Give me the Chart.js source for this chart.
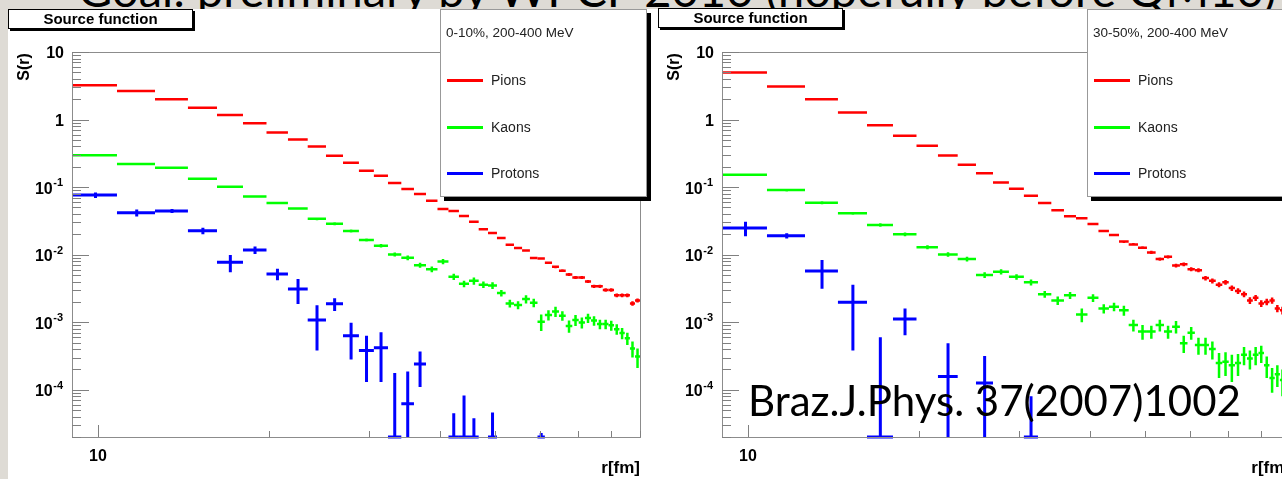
<!DOCTYPE html>
<html>
<head>
<meta charset="utf-8">
<script src="https://cdn.jsdelivr.net/npm/chart.js@4.4.1/dist/chart.umd.min.js"></script>
<style>
  body { margin:0; width:1282px; height:479px; overflow:hidden; background:#dedbd5; position:relative; font-family:"Liberation Sans", Arial, sans-serif; }
  #slideTitle { position:absolute; left:78px; top:-34px; font-family:Lato, sans-serif; font-size:47px; line-height:47px; white-space:nowrap; color:#000; }
  #pad { position:absolute; left:8px; top:9px; width:1274px; height:470px; background:#fff; }
  .plot { position:absolute; top:0; width:660px; height:479px; }
  .titlebox { position:absolute; top:9px; width:183px; height:18px; border:1px solid #000; background:#fff; box-shadow:2px 2px 0 #000;
              font-weight:bold; font-size:15px; line-height:18px; text-align:center; color:#000; }
  .legend { position:absolute; top:9px; width:205px; height:186px; border:1px solid #999; background:#fff; box-shadow:4px 4px 0 #000; color:#222; }
  .legend .head { position:absolute; left:5px; top:15px; font-size:13.5px; }
  .legend .item { position:absolute; left:6px; font-size:14px; height:16px; line-height:16px; }
  .legend .item span { display:inline-block; width:36px; height:0; border-top:3px solid; vertical-align:middle; margin-right:8px; position:relative; top:-1px; }
  .ylab { position:absolute; top:58px; font-weight:bold; font-size:16px; transform:rotate(-90deg); transform-origin:center; }
  .xlab { position:absolute; top:458px; width:60px; text-align:right; font-weight:bold; font-size:17px; }
  #ref { position:absolute; left:748px; top:378px; font-family:Lato, sans-serif; font-size:42px; line-height:44px; color:#000; white-space:nowrap; }
</style>
</head>
<body>
<div id="slideTitle">Goal: preliminary by WPCF 2010 (hopefully before QM10)</div>
<div id="pad"></div>

<div class="plot" style="left:0"><canvas id="c010" width="660" height="479"></canvas></div>
<div class="plot" style="left:650px"><canvas id="c3050" width="660" height="479"></canvas></div>

<div class="titlebox" style="left:8px">Source function</div>
<div class="titlebox" style="left:658px;top:8px">Source function</div>

<div class="ylab" style="left:10px">S(r)</div>
<div class="ylab" style="left:660px">S(r)</div>
<div class="xlab" style="left:580px">r[fm]</div>
<div class="xlab" style="left:1230px">r[fm]</div>

<div class="legend" style="left:440px">
  <div class="head">0-10%, 200-400 MeV</div>
  <div class="item" style="top:62px"><span style="color:#ff0000"></span>Pions</div>
  <div class="item" style="top:109px"><span style="color:#00ff00"></span>Kaons</div>
  <div class="item" style="top:155px"><span style="color:#0000ff"></span>Protons</div>
</div>
<div class="legend" style="left:1087px">
  <div class="head">30-50%, 200-400 MeV</div>
  <div class="item" style="top:62px"><span style="color:#ff0000"></span>Pions</div>
  <div class="item" style="top:109px"><span style="color:#00ff00"></span>Kaons</div>
  <div class="item" style="top:155px"><span style="color:#0000ff"></span>Protons</div>
</div>

<div id="ref">Braz.J.Phys. 37(2007)1002</div>

<script>
// bin edges in r [fm]
const rEdges = [9.0, 10.8, 12.6, 14.4, 16.2, 18.0, 19.8, 21.6, 23.4, 25.2, 27.0, 28.8, 30.6, 32.4, 34.2, 36.0,
  37.8, 39.6, 41.4, 43.2, 45.0, 46.8, 48.6, 50.4, 52.2, 54.0, 55.8, 57.6, 59.4, 61.2, 63.0, 64.8, 66.6, 68.4,
  70.2, 72.0, 73.8, 75.6, 77.4, 79.2, 81.0, 82.8, 84.6, 86.4, 88.2, 90.0];

const xTickValues = [10, 20, 30, 40, 50, 60, 70, 80, 90];
const xTickLabels = ['10', '', '', '', '', '', '', '', ''];
const yTickValues = [10, 1, 0.1, 0.01, 0.001, 0.0001];
const yTickLabels = ['10', '1', '10^-1', '10^-2', '10^-3', '10^-4'];

// 0-10%
const pions010 = [3.22, 2.65, 2.0, 1.49, 1.17, 0.88, 0.644, 0.507, 0.40, 0.29, 0.229, 0.174, 0.147, 0.115, 0.0935,
  0.0789, 0.0628, 0.0473, 0.0443, 0.0373, 0.0307, 0.0237, 0.021, 0.0177, 0.014, 0.0126, 0.0115, 0.0089, 0.0088,
  0.0076, 0.0066, 0.0058, 0.0051, 0.0046, 0.0046, 0.0040, 0.0034, 0.0034, 0.0030, 0.0030, 0.0025, 0.0025, 0.0025,
  0.0019, 0.0021];
const pions010Err = [0.02, 0.02, 0.015, 0.012, 0.01, 0.008, 0.006, 0.005, 0.004, 0.003, 0.003, 0.002, 0.002, 0.0018,
  0.0015, 0.0013, 0.0011, 0.0009, 0.0009, 0.0008, 0.0007, 0.0006, 0.0006, 0.0005, 0.0005, 0.00045, 0.0004, 0.00035,
  0.00035, 0.0003, 0.0003, 0.00027, 0.00025, 0.00023, 0.00023, 0.0002, 0.0002, 0.0002, 0.00018, 0.00018, 0.00016,
  0.00016, 0.00016, 0.00014, 0.00014];
const kaons010 = [0.297, 0.219, 0.193, 0.133, 0.101, 0.0729, 0.0581, 0.0484, 0.034, 0.0287, 0.0224, 0.0165, 0.0136,
  0.0101, 0.009, 0.0070, 0.0061, 0.0079, 0.0047, 0.0037, 0.0041, 0.0036, 0.0035, 0.0027, 0.0019, 0.0018, 0.0022,
  0.00195, 0.00102, 0.00128, 0.00144, 0.00125, 0.00088, 0.00108, 0.00099, 0.00115, 0.00106, 0.00094, 0.00094,
  0.0009, 0.00079, 0.00069, 0.00058, 0.00041, 0.00031];
const kaons010Err = [0.012, 0.009, 0.008, 0.006, 0.004, 0.003, 0.0025, 0.002, 0.0016, 0.0014, 0.0011, 0.0009, 0.0008,
  0.0007, 0.0007, 0.0006, 0.0006, 0.0007, 0.0005, 0.0004, 0.0005, 0.0004, 0.0004, 0.0003, 0.00025, 0.00025, 0.0003,
  0.00028, 0.00028, 0.00022, 0.00025, 0.0002, 0.00018, 0.0002, 0.00018, 0.00018, 0.00017, 0.00015, 0.00015, 0.00015,
  0.00014, 0.00013, 0.00012, 0.00011, 0.0001];
const protons010 = [0.0762, 0.0417, 0.0443, 0.0226, 0.0077, 0.0117, 0.00518, 0.00311, 0.00108, 0.00187, 0.00063,
  0.00038, 0.00042, 0, 0.000062, 0.00024, null, null, 0, 0, 0, null, 0, null, null, null, null, null, 0, null, null,
  null, null, null, null, null, null, null, null, null, null, null, null, null, null];
const protons010Err = [0.007, 0.005, 0.003, 0.0025, 0.0022, 0.0015, 0.001, 0.00125, 0.0007, 0.0004, 0.00035,
  0.00025, 0.00029, 0.000177, 0.000124, 0.00013, 0, 0, 0.000045, 0.000082, 0.000038, 0, 0.000046, 0, 0, 0, 0, 0,
  0.000023, 0, 0, 0, 0, 0, 0, 0, 0, 0, 0, 0, 0, 0, 0, 0, 0];

// 30-50%
const pions3050 = [4.96, 3.08, 2.0, 1.27, 0.826, 0.574, 0.408, 0.294, 0.214, 0.161, 0.117, 0.0945, 0.0745, 0.0581,
  0.0453, 0.0369, 0.0345, 0.0284, 0.0224, 0.0195, 0.0156, 0.0142, 0.0127, 0.0108, 0.0086, 0.0093, 0.0069, 0.0072,
  0.0061, 0.0059, 0.0045, 0.0041, 0.0036, 0.0039, 0.0032, 0.0029, 0.0026, 0.0021, 0.0023, 0.0019, 0.0020, 0.0021,
  0.0016, 0.0015, 0.0014];
const pions3050Err = [0.03, 0.02, 0.015, 0.01, 0.008, 0.006, 0.005, 0.004, 0.003, 0.0025, 0.002, 0.0018, 0.0015,
  0.0013, 0.0011, 0.001, 0.001, 0.0009, 0.0008, 0.0008, 0.0007, 0.0007, 0.0006, 0.0006, 0.0005, 0.0005, 0.00045,
  0.00045, 0.0004, 0.0004, 0.00035, 0.00035, 0.0003, 0.0003, 0.0003, 0.00028, 0.00026, 0.00024, 0.00024, 0.00022,
  0.00022, 0.00022, 0.0002, 0.0002, 0.0002];
const kaons3050 = [0.152, 0.0904, 0.0586, 0.0409, 0.0275, 0.020, 0.0129, 0.0101, 0.0086, 0.0050, 0.0056, 0.0047,
  0.0039, 0.0026, 0.0021, 0.0025, 0.0013, 0.0023, 0.0016, 0.0017, 0.0015, 0.00091, 0.00073, 0.00073, 0.00091,
  0.00073, 0.00086, 0.00049, 0.0007, 0.00046, 0.00046, 0.0004, 0.00025, 0.00026, 0.00023, 0.00025, 0.00033, 0.00029,
  0.00033, 0.00035, 0.00023, 0.00015, 0.00017, 0.00014, 0.00013];
const kaons3050Err = [0.006, 0.004, 0.003, 0.002, 0.0016, 0.0013, 0.0009, 0.0008, 0.0007, 0.0005, 0.0005, 0.00045,
  0.0004, 0.0003, 0.0003, 0.0003, 0.0003, 0.0003, 0.00025, 0.00025, 0.00025, 0.00018, 0.00018, 0.00016, 0.00018,
  0.00016, 0.00018, 0.00014, 0.00015, 0.00013, 0.00013, 0.00012, 0.0001, 0.0001, 0.0001, 0.00009, 0.0001, 0.00009,
  0.0001, 0.0001, 0.00008, 0.00006, 0.00006, 0.00006, 0.00006];
const protons3050 = [0.0248, 0.0191, 0.00574, 0.00198, 0, 0.00112, null, 0.000157, null, 0.000126, null, null, 0,
  null, null, null, null, null, null, null, null, null, null, null, null, null, null, null, null, null, null, null,
  null, null, null, null, null, null, null, null, null, null, null, null, null];
const protons3050Err = [0.006, 0.0017, 0.0026, 0.0016, 0.0006, 0.00048, 0, 0.00033, 0, 0.00019, 0, 0, 0.00008, 0, 0,
  0, 0, 0, 0, 0, 0, 0, 0, 0, 0, 0, 0, 0, 0, 0, 0, 0, 0, 0, 0, 0, 0, 0, 0, 0, 0, 0, 0, 0, 0];

const Y_MIN = 2e-5, Y_MAX = 10, X_MIN = 9, X_MAX = 90;

// ROOT-like histogram drawing: frame, inner ticks, bins with error bars
const rootStyle = {
  id: 'rootStyle',
  afterDatasetsDraw(chart) {
    const { ctx, chartArea: a, scales: { x, y } } = chart;

    ctx.save();
    ctx.beginPath();
    ctx.rect(a.left - 2, a.top - 2, a.right - a.left + 4, a.bottom - a.top + 4);
    ctx.clip();
    chart.data.datasets.forEach(ds => {
      ctx.strokeStyle = ds.borderColor;
      ctx.lineWidth = ds.borderWidth;
      ds.values.forEach((v, i) => {
        if (v === null) return;
        const e = ds.errors[i];
        const py = v > Y_MIN ? y.getPixelForValue(v) : a.bottom;
        const x0 = x.getPixelForValue(rEdges[i]);
        const x1 = x.getPixelForValue(rEdges[i + 1]);
        const xc = x.getPixelForValue((rEdges[i] + rEdges[i + 1]) / 2);
        ctx.beginPath();
        ctx.moveTo(x0, py);
        ctx.lineTo(x1, py);
        if (e > 0) {
          const hi = v + e, lo = v - e;
          const pyHi = hi > Y_MIN ? y.getPixelForValue(hi) : a.bottom;
          const pyLo = lo > Y_MIN ? y.getPixelForValue(lo) : a.bottom;
          ctx.moveTo(xc, pyHi);
          ctx.lineTo(xc, pyLo);
        }
        ctx.stroke();
      });
    });
    ctx.restore();

    // frame
    ctx.save();
    ctx.strokeStyle = '#8c8c8c';
    ctx.lineWidth = 1;
    ctx.strokeRect(Math.round(a.left) + 0.5, Math.round(a.top) + 0.5, a.right - a.left, a.bottom - a.top);

    // y ticks (inside frame)
    ctx.strokeStyle = '#808080';
    ctx.beginPath();
    for (let d = 1e-5; d <= 10; d *= 10) {
      for (let m = 1; m <= 9; m++) {
        const v = m * d;
        if (v < Y_MIN * 0.999 || v > Y_MAX * 1.001) continue;
        const py = Math.round(y.getPixelForValue(v)) + 0.5;
        const len = m === 1 ? 17 : 9;
        ctx.moveTo(a.left, py);
        ctx.lineTo(a.left + len, py);
      }
    }
    // x ticks
    xTickValues.forEach((v, i) => {
      const px = Math.round(x.getPixelForValue(v)) + 0.5;
      const len = xTickLabels[i] ? 12 : 6;
      ctx.moveTo(px, a.bottom);
      ctx.lineTo(px, a.bottom - len);
    });
    ctx.stroke();

    // tick labels
    ctx.fillStyle = '#000';
    ctx.textBaseline = 'middle';
    yTickValues.forEach((v, i) => {
      const py = y.getPixelForValue(v) + 2;
      const [base, exp] = yTickLabels[i].split('^');
      let right = a.left - 8;
      if (exp) {
        ctx.font = 'bold 11px "Liberation Sans", Arial, sans-serif';
        ctx.textAlign = 'right';
        right -= 1;
        ctx.fillText(exp, right, py - 6);
        right -= ctx.measureText(exp).width + 0.5;
      }
      ctx.font = 'bold 16px "Liberation Sans", Arial, sans-serif';
      ctx.textAlign = 'right';
      ctx.fillText(base, right, py);
    });
    ctx.textAlign = 'center';
    ctx.font = 'bold 16px "Liberation Sans", Arial, sans-serif';
    xTickValues.forEach((v, i) => {
      if (xTickLabels[i]) ctx.fillText(xTickLabels[i], x.getPixelForValue(v), a.bottom + 20);
    });
    ctx.restore();
  }
};

function makePanel(id, pions, pionsErr, kaons, kaonsErr, protons, protonsErr) {
  const series = [
    { label: 'Pions', values: pions, errors: pionsErr, color: '#ff0000', width: 2.5 },
    { label: 'Kaons', values: kaons, errors: kaonsErr, color: '#00ff00', width: 2.5 },
    { label: 'Protons', values: protons, errors: protonsErr, color: '#0000ff', width: 3 }
  ];
  return new Chart(document.getElementById(id), {
    type: 'scatter',
    data: {
      datasets: series.map(s => ({
        label: s.label,
        values: s.values,
        errors: s.errors,
        borderColor: s.color,
        backgroundColor: s.color,
        borderWidth: s.width,
        pointRadius: 0,
        data: s.values.map((v, i) => ({ x: (rEdges[i] + rEdges[i + 1]) / 2, y: v > 0 ? v : null }))
      }))
    },
    options: {
      responsive: false,
      animation: false,
      layout: { padding: { left: 72, top: 52, right: 20, bottom: 42 } },
      plugins: { legend: { display: false }, tooltip: { enabled: false } },
      scales: {
        x: { type: 'logarithmic', min: X_MIN, max: X_MAX, display: false },
        y: { type: 'logarithmic', min: Y_MIN, max: Y_MAX, display: false }
      }
    },
    plugins: [rootStyle]
  });
}

makePanel('c010', pions010, pions010Err, kaons010, kaons010Err, protons010, protons010Err);
makePanel('c3050', pions3050, pions3050Err, kaons3050, kaons3050Err, protons3050, protons3050Err);
</script>
</body>
</html>
